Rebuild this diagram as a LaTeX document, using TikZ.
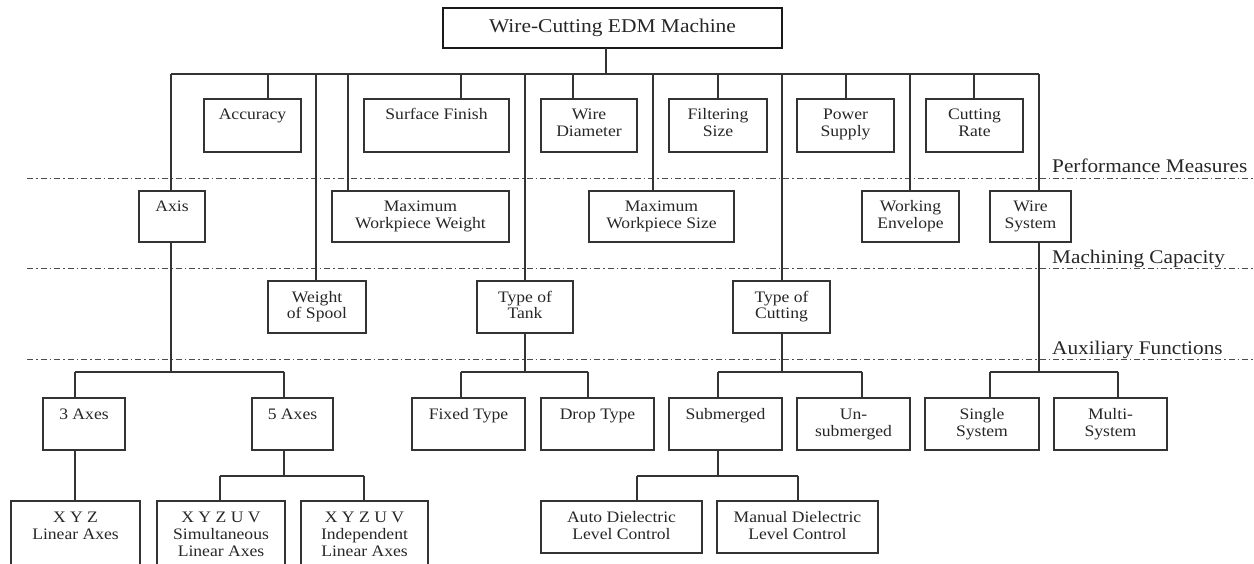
\documentclass[tikz,border=0pt]{standalone}
\usepackage{fontspec}
\setmainfont[FakeStretch=1.1]{Liberation Serif}
\tikzset{
 box/.style={draw=black!80, line width=1.2pt, inner sep=0pt, outer sep=0pt, anchor=north west},
 btxt/.style={font=\fontsize{16}{17}\selectfont, align=center, inner xsep=0pt, inner ysep=9pt, outer sep=0pt, anchor=north, text=black!85},
 titlebox/.style={draw=black!90, line width=2.6pt, inner sep=0pt, outer sep=0pt, minimum width=339pt, minimum height=40pt, font=\fontsize{19.5}{21}\selectfont, text=black!85},
 conn/.style={draw=black!80, line width=1.2pt},
 level/.style={draw=black!70, line width=0.9pt, dash pattern=on 6pt off 3pt on 1.5pt off 3pt},
 lbl/.style={font=\fontsize{19.3}{21}\selectfont, anchor=base west, inner sep=0pt, text=black!85},
}
\newcommand\bx[6]{%
 \node[box, minimum width={#4pt-#2pt}, minimum height={#5pt-#3pt}] (#1) at (#2,#3) {};
 \node[btxt] (#1t) at (#1.north) {\rule{0pt}{12pt}#6};}
\begin{document}
\begin{tikzpicture}[x=1pt,y=-1pt]
\useasboundingbox (0,0) rectangle (1254,564);
\clip (0,0) rectangle (1254,564);
% level lines
\coordinate (d1L) at (27,178); \coordinate (d1R) at (1254,178);
\coordinate (d2L) at (27,268); \coordinate (d2R) at (1254,268);
\coordinate (d3L) at (27,359); \coordinate (d3R) at (1254,359);
\draw[level] (d1L) -- (d1R);
\draw[level] (d2L) -- (d2R);
\draw[level] (d3L) -- (d3R);
\node[lbl] (pm) at (1052,173) {Performance Measures};
\node[lbl] (mc) at (1052,264) {Machining Capacity};
\node[lbl] (af) at (1052,354) {Auxiliary Functions};
% title
\node[titlebox] (top) at (612.5,28) {Wire-Cutting EDM Machine};
% boxes
\bx{acc}{204}{99}{301}{152}{Accuracy}
\bx{sf}{364}{99}{509}{152}{Surface Finish}
\bx{wd}{541}{99}{637}{152}{Wire\\Diameter}
\bx{fs}{669}{99}{767}{152}{Filtering\\Size}
\bx{ps}{797}{99}{894}{152}{Power\\Supply}
\bx{cr}{926}{99}{1023}{152}{Cutting\\Rate}
\bx{axis}{139}{191}{205}{242}{Axis}
\bx{mww}{332}{191}{509}{242}{Maximum\\Workpiece Weight}
\bx{mws}{589}{191}{734}{242}{Maximum\\Workpiece Size}
\bx{we}{862}{191}{959}{242}{Working\\Envelope}
\bx{ws}{990}{191}{1071}{242}{Wire\\System}
\bx{wsp}{268}{281}{366}{333}{Weight\\of Spool}
\bx{tt}{477}{281}{573}{333}{Type of\\Tank}
\bx{tc}{733}{281}{830}{333}{Type of\\Cutting}
\bx{axt}{43}{398}{125}{450}{3 Axes}
\bx{axf}{252}{398}{333}{450}{5 Axes}
\bx{ft}{412}{398}{525}{450}{Fixed Type}
\bx{dt}{541}{398}{654}{450}{Drop Type}
\bx{sub}{669}{398}{782}{450}{Submerged}
\bx{uns}{797}{398}{910}{450}{Un-\\submerged}
\bx{ss}{925}{398}{1039}{450}{Single\\System}
\bx{ms}{1054}{398}{1167}{450}{Multi-\\System}
\bx{xyz}{11}{501}{140}{580}{X Y Z\\Linear Axes}
\bx{sim}{157}{501}{285}{580}{X Y Z U V\\Simultaneous\\Linear Axes}
\bx{ind}{301}{501}{428}{580}{X Y Z U V\\Independent\\Linear Axes}
\bx{auto}{541}{501}{702}{553}{Auto Dielectric\\Level Control}
\bx{man}{717}{501}{878}{553}{Manual Dielectric\\Level Control}
% top bus
\coordinate (bL) at (171,74); \coordinate (bR) at (1039,74);
\coordinate (tstem) at (606,74);
\draw[conn] (bL) -- (bR);
\draw[conn] (top.south -| tstem) -- (tstem);
\foreach \n/\x in {acc/268, sf/461, wd/573, fs/718, ps/846, cr/974,
                   axis/171, mww/348, mws/653, we/910, ws/1039,
                   wsp/316, tt/525, tc/782}{
  \coordinate (k\n) at (\x,74);
  \draw[conn] (k\n) -- (k\n |- \n.north);
}
% axis subtree
\coordinate (axL) at (75,372); \coordinate (axR) at (284,372); \coordinate (axM) at (171,372);
\draw[conn] (kaxis |- axis.south) -- (axM);
\draw[conn] (axL) -- (axR);
\draw[conn] (axL) -- (axL |- axt.north);
\draw[conn] (axR) -- (axR |- axf.north);
\draw[conn] (axL |- axt.south) -- (axL |- xyz.north);
\coordinate (a5M) at (284,476); \coordinate (a5L) at (220,476); \coordinate (a5R) at (364,476);
\draw[conn] (a5M |- axf.south) -- (a5M);
\draw[conn] (a5L) -- (a5R);
\draw[conn] (a5L) -- (a5L |- sim.north);
\draw[conn] (a5R) -- (a5R |- ind.north);
% tank subtree
\coordinate (tkL) at (461,372); \coordinate (tkR) at (588,372); \coordinate (tkM) at (525,372);
\draw[conn] (tkM |- tt.south) -- (tkM);
\draw[conn] (tkL) -- (tkR);
\draw[conn] (tkL) -- (tkL |- ft.north);
\draw[conn] (tkR) -- (tkR |- dt.north);
% cutting subtree
\coordinate (ctL) at (718,372); \coordinate (ctR) at (862,372); \coordinate (ctM) at (782,372);
\draw[conn] (ctM |- tc.south) -- (ctM);
\draw[conn] (ctL) -- (ctR);
\draw[conn] (ctL) -- (ctL |- sub.north);
\draw[conn] (ctR) -- (ctR |- uns.north);
\coordinate (smM) at (718,476); \coordinate (smL) at (637,476); \coordinate (smR) at (798,476);
\draw[conn] (smM |- sub.south) -- (smM);
\draw[conn] (smL) -- (smR);
\draw[conn] (smL) -- (smL |- auto.north);
\draw[conn] (smR) -- (smR |- man.north);
% wire system subtree
\coordinate (wsL) at (990,372); \coordinate (wsR) at (1118,372); \coordinate (wsM) at (1039,372);
\draw[conn] (wsM |- ws.south) -- (wsM);
\draw[conn] (wsL) -- (wsR);
\draw[conn] (wsL) -- (wsL |- ss.north);
\draw[conn] (wsR) -- (wsR |- ms.north);
\end{tikzpicture}
\end{document}
